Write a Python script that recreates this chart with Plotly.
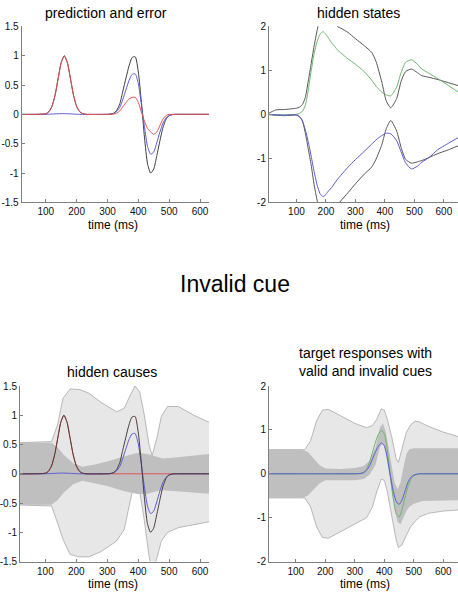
import plotly.graph_objects as go

# ---------------- data ----------------
# time grid (ms) for the cue / target pulses
pulse_t = [0, 100, 110, 120, 130, 140, 150, 160, 170, 180, 190, 200, 210, 220, 230,
           300, 310, 320, 330, 340, 350, 360, 370, 380, 390, 400, 410, 420, 430, 440,
           450, 460, 470, 480, 490, 500, 510, 520, 530, 650]

cue_y = [0, 0.01, 0.044, 0.135, 0.325, 0.607, 0.882, 1.0, 0.882, 0.607, 0.325, 0.135, 0.044, 0.011, 0,
         0, 0, 0, 0, 0, 0, 0, 0, 0, 0, 0, 0, 0, 0, 0,
         0, 0, 0, 0, 0, 0, 0, 0, 0, 0]

target_y = [0, 0, 0, 0, 0, 0, 0, 0, 0, 0, 0, 0, 0, 0, 0,
            0, 0.005, 0.02, 0.07, 0.18, 0.40, 0.62, 0.83, 0.97, 0.98, 0.72, 0.20, -0.40, -0.85, -1.0,
            -0.93, -0.70, -0.45, -0.22, -0.08, -0.02, -0.005, 0, 0, 0]

pred_y = [0, 0, 0.002, 0.005, 0.008, 0.01, 0.012, 0.012, 0.01, 0.008, 0.005, 0.002, 0, 0, 0,
          0, 0.003, 0.015, 0.05, 0.12, 0.26, 0.42, 0.58, 0.68, 0.69, 0.52, 0.17, -0.22, -0.55, -0.68,
          -0.64, -0.48, -0.30, -0.15, -0.06, -0.02, -0.005, 0, 0, 0]

err_y = [0, 0.01, 0.044, 0.135, 0.325, 0.607, 0.882, 0.99, 0.882, 0.607, 0.325, 0.135, 0.044, 0.011, 0,
         0, 0, 0.005, 0.02, 0.06, 0.13, 0.20, 0.26, 0.29, 0.29, 0.20, 0.04, -0.12, -0.24, -0.30,
         -0.34, -0.30, -0.19, -0.08, -0.02, 0, 0, 0, 0, 0]

# target responses (bottom right)
valid_y = [0, 0, 0, 0, 0, 0, 0, 0, 0, 0, 0, 0, 0, 0, 0,
           0, 0.002, 0.01, 0.035, 0.11, 0.27, 0.49, 0.72, 0.90, 0.99, 0.92, 0.55, -0.02, -0.55, -0.90,
           -0.99, -0.82, -0.55, -0.30, -0.13, -0.05, -0.015, 0, 0, 0]
invalid_y = [0, 0, 0, 0, 0, 0, 0, 0, 0, 0, 0, 0, 0, 0, 0,
             0, 0.001, 0.007, 0.025, 0.08, 0.18, 0.34, 0.50, 0.63, 0.70, 0.64, 0.36, -0.02, -0.38, -0.62,
             -0.70, -0.60, -0.40, -0.20, -0.08, -0.03, -0.01, 0, 0, 0]

# hidden states (top right)
hs_t = [0, 30, 60, 100, 110, 120, 130, 140, 150, 160, 170, 180, 190, 200, 210, 220, 230, 240, 250,
        275, 300, 330, 355, 370, 390, 405, 420, 440, 455, 470, 490, 510, 525, 550, 580, 610, 650]
hs_up_est = [0, -0.01, -0.01, 0.0, 0.02, 0.07, 0.2, 0.55, 0.98, 1.38, 1.65, 1.82, 1.88, 1.82, 1.72,
             1.62, 1.54, 1.46, 1.40, 1.26, 1.14, 0.97, 0.78, 0.64, 0.50, 0.44, 0.42, 0.62, 0.95,
             1.18, 1.24, 1.14, 1.03, 0.93, 0.81, 0.68, 0.50]
hs_up_true = [0, 0.1, 0.11, 0.14, 0.16, 0.22, 0.38, 0.75, 1.15, 1.55, 1.9, 2.2, 2.4, 2.5, 2.45,
              2.3, 2.12, 1.99, 1.96, 1.86, 1.72, 1.56, 1.41, 1.20, 0.72, 0.30, 0.15, 0.36, 0.75,
              0.97, 1.03, 0.95, 0.88, 0.84, 0.79, 0.73, 0.65]
hs_lo_est = [0, -0.01, -0.02, -0.01, -0.05, -0.15, -0.35, -0.62, -0.95, -1.3, -1.6, -1.8, -1.87, -1.82,
             -1.73, -1.66, -1.56, -1.47, -1.39, -1.20, -1.03, -0.84, -0.68, -0.58, -0.48, -0.43, -0.44,
             -0.60, -0.85, -1.1, -1.24, -1.18, -1.09, -0.98, -0.80, -0.68, -0.52]
hs_lo_true = [0, -0.02, -0.03, -0.02, -0.05, -0.14, -0.42, -0.78, -1.15, -1.6, -1.95, -2.25, -2.4, -2.45,
              -2.4, -2.3, -2.18, -2.06, -1.97, -1.78, -1.58, -1.36, -1.2, -1.02, -0.68, -0.32, -0.14,
              -0.38, -0.75, -1.02, -1.11, -1.08, -1.05, -0.98, -0.89, -0.82, -0.71]

# hidden causes confidence bands (bottom left)
bl_light_t = [0, 120, 140, 157, 180, 210, 240, 280, 330, 355, 375, 390, 405, 420, 435, 445, 460,
              475, 495, 530, 580, 650]
bl_light_up = [0.53, 0.55, 0.85, 1.29, 1.45, 1.44, 1.38, 1.22, 1.06, 1.12, 1.35, 1.5, 1.4, 1.0, 0.5,
               0.31, 0.6, 0.98, 1.15, 1.15, 1.0, 0.83]
bl_light_lo = [-0.53, -0.55, -0.85, -1.12, -1.38, -1.42, -1.42, -1.33, -1.15, -0.95, -0.45, -0.1, -0.3,
               -0.8, -1.4, -1.68, -1.45, -1.15, -1.0, -0.92, -0.87, -0.80]
bl_dark_t = [0, 120, 140, 160, 190, 220, 260, 300, 350, 400, 430, 460, 480, 520, 560, 600, 650]
bl_dark_up = [0.53, 0.53, 0.45, 0.32, 0.18, 0.12, 0.16, 0.21, 0.29, 0.36, 0.34, 0.29, 0.26, 0.28, 0.30,
              0.32, 0.35]
bl_dark_lo = [-0.53, -0.53, -0.45, -0.32, -0.18, -0.12, -0.16, -0.21, -0.29, -0.35, -0.34, -0.3, -0.28,
              -0.29, -0.31, -0.33, -0.35]

# target response confidence bands (bottom right)
br_light_t = [0, 130, 150, 170, 190, 210, 250, 300, 340, 360, 375, 390, 400, 410, 425, 440, 448, 460,
              475, 490, 505, 520, 550, 600, 660]
br_light_up = [0.55, 0.55, 0.75, 1.2, 1.45, 1.47, 1.33, 1.15, 1.05, 1.1, 1.25, 1.48, 1.45, 1.25, 0.85,
               0.35, 0.26, 0.55, 0.95, 1.12, 1.2, 1.18, 1.08, 0.95, 0.83]
br_light_lo = [-0.55, -0.55, -0.75, -1.2, -1.45, -1.47, -1.33, -1.15, -1.0, -0.75, -0.4, -0.12, -0.15,
               -0.4, -0.95, -1.5, -1.68, -1.62, -1.4, -1.2, -1.08, -0.98, -0.9, -0.85, -0.82]
br_dark_t = [0, 120, 140, 160, 180, 200, 250, 300, 330, 350, 370, 385, 395, 405, 415, 425, 435, 445,
             455, 465, 475, 485, 500, 530, 660]
br_dark_up = [0.55, 0.55, 0.5, 0.35, 0.2, 0.12, 0.11, 0.13, 0.18, 0.3, 0.6, 1.05, 1.15, 0.95, 0.55,
              0.15, -0.2, -0.35, -0.2, 0.15, 0.45, 0.56, 0.58, 0.58, 0.58]
br_dark_lo = [-0.55, -0.55, -0.5, -0.35, -0.22, -0.15, -0.15, -0.15, -0.12, -0.02, 0.2, 0.6, 0.7, 0.5,
              0.1, -0.35, -0.8, -1.1, -1.15, -1.0, -0.85, -0.75, -0.68, -0.62, -0.6]

x_ticks = [100, 200, 300, 400, 500, 600]
y15_vals = [-1.5, -1, -0.5, 0, 0.5, 1, 1.5]
y15_text = ["-1.5", "-1", "-0.5", "0", "0.5", "1", "1.5"]
y2_vals = [-2, -1, 0, 1, 2]
y2_text = ["-2", "-1", "0", "1", "2"]

# ---------------- styling ----------------
W, H = 458, 599
FONT = "Liberation Sans"
BLACK = "#3c3c3c"
BLUE = "#5a5ad2"
RED = "#e05050"
GREEN = "#6cb46c"
LIGHT = "#e7e7e7"
LIGHT_EDGE = "#a8a8a8"
DARK = "#bfbfbf"

signal_y = [c + t for c, t in zip(cue_y, target_y)]

fig = go.Figure()


def line(x, y, color, xa, ya, width=1.0, opacity=1.0):
    fig.add_trace(go.Scatter(x=x, y=y, mode="lines", xaxis=xa, yaxis=ya, opacity=opacity,
                             line=dict(color=color, width=width, shape="spline", smoothing=0.6),
                             hoverinfo="skip", showlegend=False))


def band(t, up, lo, fillcolor, edge, xa, ya):
    fig.add_trace(go.Scatter(x=list(t) + list(t)[::-1], y=list(up) + list(lo)[::-1],
                             mode="lines", fill="toself", fillcolor=fillcolor, xaxis=xa, yaxis=ya,
                             line=dict(color=edge, width=0.8 if edge else 0),
                             hoverinfo="skip", showlegend=False))


# top left: prediction and error
line(pulse_t, signal_y, BLACK, "x", "y")
line(pulse_t, pred_y, BLUE, "x", "y")
line(pulse_t, err_y, RED, "x", "y")

# top right: hidden states
line(hs_t, hs_up_true, "#555555", "x2", "y2")
line(hs_t, hs_lo_true, "#555555", "x2", "y2")
line(hs_t, hs_up_est, GREEN, "x2", "y2")
line(hs_t, hs_lo_est, BLUE, "x2", "y2")

# bottom left: hidden causes
band(bl_light_t, bl_light_up, bl_light_lo, LIGHT, LIGHT_EDGE, "x3", "y3")
band(bl_dark_t, bl_dark_up, bl_dark_lo, DARK, None, "x3", "y3")
line(pulse_t, cue_y, RED, "x3", "y3")
line(pulse_t, pred_y, BLUE, "x3", "y3")
line(pulse_t, signal_y, "#4a3a3a", "x3", "y3")

# bottom right: target responses
band(br_light_t, br_light_up, br_light_lo, LIGHT, LIGHT_EDGE, "x4", "y4")
band(br_dark_t, br_dark_up, br_dark_lo, DARK, None, "x4", "y4")
line(pulse_t, valid_y, GREEN, "x4", "y4")
line(pulse_t, invalid_y, BLUE, "x4", "y4")


def px_x(p):
    return p / W


def px_y(p):
    return 1 - p / H


axis_common = dict(showline=True, linecolor="#808080", linewidth=1, ticks="inside", ticklen=3,
                   tickcolor="#808080", showgrid=False, zeroline=False,
                   tickfont=dict(family=FONT, size=10, color="#111111"))

top_dom = [px_y(200.7), px_y(21.7)]
bot_dom = [px_y(566), px_y(387.5)]

fig.update_layout(
    width=W, height=H, margin=dict(l=0, r=0, t=0, b=0), autosize=False,
    paper_bgcolor="white", plot_bgcolor="white",
    xaxis=dict(domain=[px_x(21.7), px_x(209)], range=[22, 629], anchor="y", tickvals=x_ticks, **axis_common),
    yaxis=dict(domain=top_dom, range=[-1.5, 1.5], anchor="x", tickvals=y15_vals, ticktext=y15_text, **axis_common),
    xaxis2=dict(domain=[px_x(269), 1.0], range=[7, 648], anchor="y2", tickvals=x_ticks, **axis_common),
    yaxis2=dict(domain=top_dom, range=[-2, 2], anchor="x2", tickvals=y2_vals, ticktext=y2_text, **axis_common),
    xaxis3=dict(domain=[px_x(20), px_x(209)], range=[18, 629], anchor="y3", tickvals=x_ticks, **axis_common),
    yaxis3=dict(domain=bot_dom, range=[-1.5, 1.5], anchor="x3", tickvals=y15_vals, ticktext=y15_text, **axis_common),
    xaxis4=dict(domain=[px_x(269), 1.0], range=[9, 650], anchor="y4", tickvals=x_ticks, **axis_common),
    yaxis4=dict(domain=bot_dom, range=[-2, 2], anchor="x4", tickvals=y2_vals, ticktext=y2_text, **axis_common),
)


def text(s, xp, yp, size):
    fig.add_annotation(text=s, x=px_x(xp), y=px_y(yp), xref="paper", yref="paper",
                       xanchor="center", yanchor="middle", showarrow=False,
                       font=dict(family=FONT, size=size, color="black"))


text("prediction and error", 106, 8, 14)
text("hidden states", 358, 8, 14)
text("Invalid cue", 235, 284, 23)
text("hidden causes", 112, 373, 14)
text("target responses with<br>valid and invalid cues", 365, 363, 14)
for xp, yp in [(113, 224), (365, 224), (113, 589), (365, 589)]:
    text("time (ms)", xp, yp, 12)

fig.write_html("out.html", config={"displayModeBar": False},
               post_script="document.body.style.margin='0';")
